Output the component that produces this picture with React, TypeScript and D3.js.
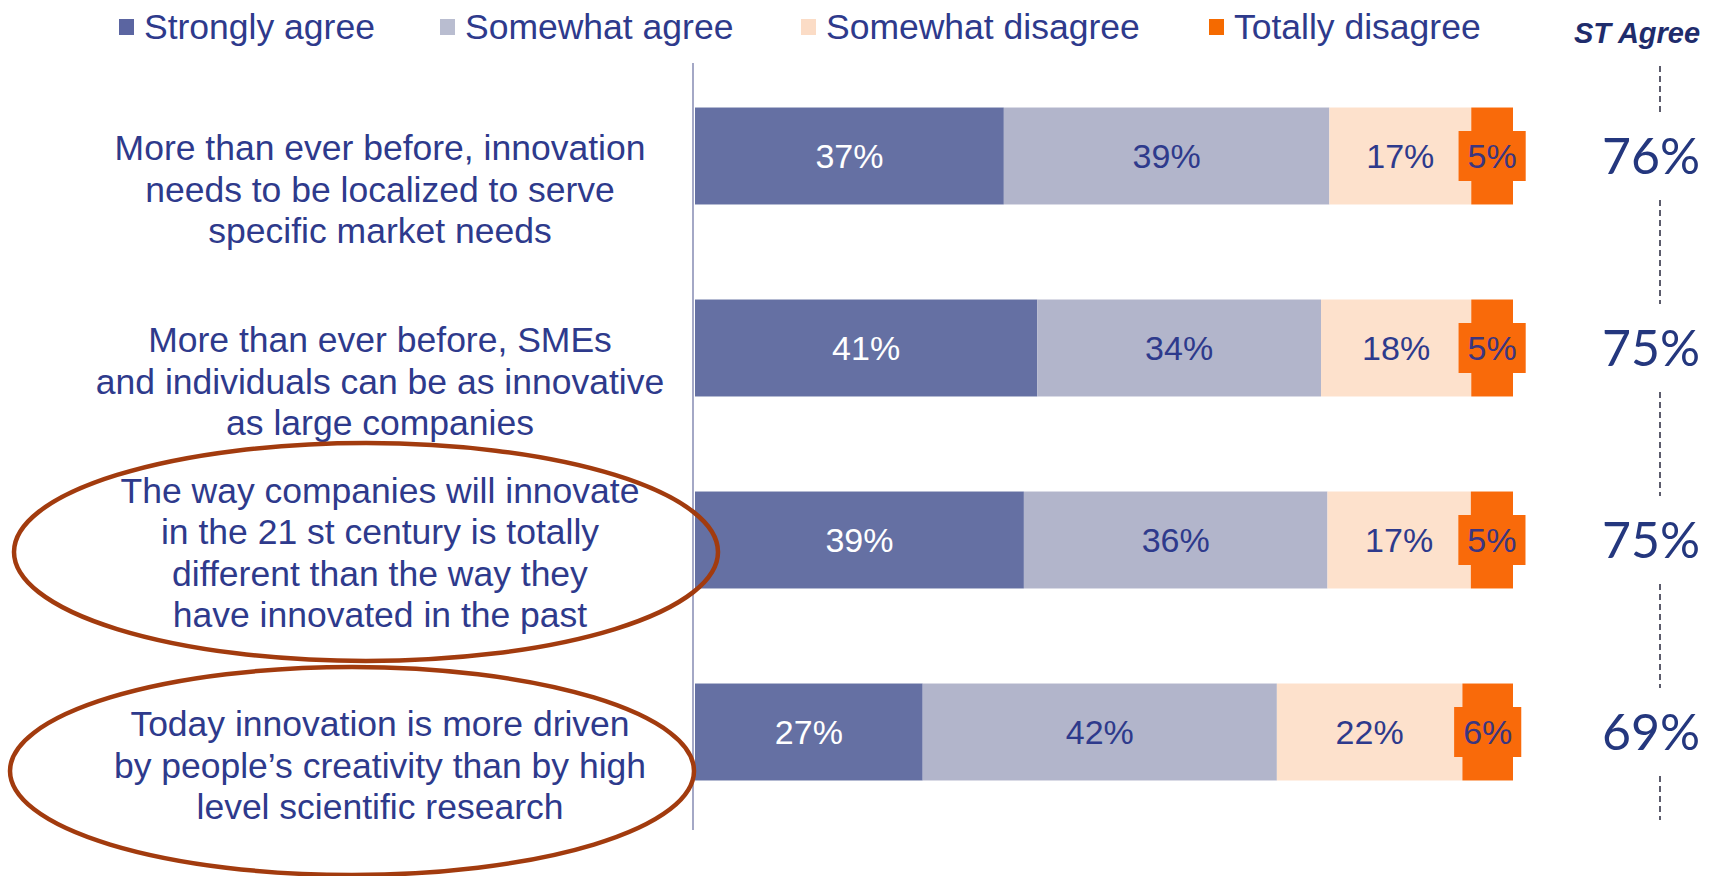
import React, { useEffect } from 'react';
import * as d3 from 'd3';

// categories (label lines as shown on the slide)
const categoryLines: string[][] = [
  ['More than ever before, innovation', 'needs to be localized to serve', 'specific market needs'],
  ['More than ever before, SMEs', 'and individuals can be as innovative', 'as large companies'],
  ['The way companies will innovate', 'in the 21 st century is totally', 'different than the way they', 'have innovated in the past'],
  ['Today innovation is more driven', 'by people\u2019s creativity than by high', 'level scientific research'],
];
const categories = categoryLines.map(l => l.join(' '));

const seriesNames = ['Strongly agree', 'Somewhat agree', 'Somewhat disagree', 'Totally disagree'];
const stronglyAgree = [37, 41, 39, 27];
const somewhatAgree = [39, 34, 36, 42];
const somewhatDisagree = [17, 18, 17, 22];
const totallyDisagree = [5, 5, 5, 6];
const stAgree = [76, 75, 75, 69];

// rows circled on the slide
const highlighted = [categories[2], categories[3]];

const W = 1723;
const H = 876;
const NAVY = '#2e3a8c';
const FONT = '"Liberation Sans", Arial, sans-serif';
const colors = ['#6570a3', '#b2b5cb', '#fde1cc', '#f96a0a'];
const legendColors = ['#5b65a1', '#b9bdd0', '#fbdcc6', '#f56a00'];
const labelColors = ['#ffffff', NAVY, NAVY, '#3b3680'];

const legendX = [119, 440, 801, 1209];
// ellipse geometry relative to its row
const ellipseShape = [
  { dx: 366, dy: 12, rx: 352, ry: 109 },
  { dx: 352, dy: 39, rx: 342, ry: 104 },
];

const approxWidth = (s: string, fs: number) =>
  d3.sum(s.split(''), c => (c === '%' ? 0.889 : 0.556)) * fs;

export default function App() {
  useEffect(() => {
    document.body.style.margin = '0';
  }, []);

  const rows = categories.map((c, i) => ({
    cat: c,
    s0: stronglyAgree[i],
    s1: somewhatAgree[i],
    s2: somewhatDisagree[i],
    s3: totallyDisagree[i],
  }));
  const keys = ['s0', 's1', 's2', 's3'];
  const stacked = d3.stack<any>().keys(keys).offset(d3.stackOffsetExpand)(rows);
  const raw = [stronglyAgree, somewhatAgree, somewhatDisagree, totallyDisagree];

  const x = d3.scaleLinear().domain([0, 1]).range([695, 1513]);
  const y = d3.scaleBand<string>().domain(categories).range([60, 828]).paddingInner(0.495).paddingOuter(0.2475);
  const bw = y.bandwidth();
  const cy = (c: string) => (y(c) as number) + bw / 2;

  const valueX = 1651;
  const dashX = 1660;
  const gapHalf = 44;
  const dashSegs: [number, number][] = [];
  let prev = 66;
  categories.forEach(c => {
    dashSegs.push([prev, cy(c) - gapHalf]);
    prev = cy(c) + gapHalf;
  });
  dashSegs.push([prev, 820]);

  const labelFs = 35.5;
  const lineH = 41.5;

  return (
    <svg width={W} height={H} style={{ display: 'block', background: '#fff' }} fontFamily={FONT}>
      {/* legend */}
      {seriesNames.map((n, i) => (
        <g key={n} transform={`translate(${legendX[i]},27)`}>
          <rect x={0} y={-8} width={15} height={16} fill={legendColors[i]} />
          <text x={25} y={12} fontSize={35.5} fill={NAVY}>{n}</text>
        </g>
      ))}
      <text x={1637} y={43} fontSize={29} fontWeight="bold" fontStyle="italic" fill="#1f2c6c" textAnchor="middle">ST Agree</text>

      {/* category axis line */}
      <line x1={693} x2={693} y1={63} y2={830} stroke="#a4a8c6" strokeWidth={2} />

      {/* bars */}
      {stacked.map((s, si) => (
        <g key={s.key}>
          {s.map((d, ri) => (
            <rect key={ri} x={x(d[0])} y={y(categories[ri])} width={x(d[1]) - x(d[0])} height={bw} fill={colors[si]} />
          ))}
        </g>
      ))}

      {/* value labels */}
      {stacked.map((s, si) => (
        <g key={'l' + s.key}>
          {s.map((d, ri) => {
            const t = `${raw[si][ri]}%`;
            const mx = (x(d[0]) + x(d[1])) / 2;
            const my = cy(categories[ri]);
            const boxW = approxWidth(t, 34) + 18;
            return (
              <g key={ri}>
                {si === 3 && <rect x={mx - boxW / 2} y={my - 25} width={boxW} height={50} fill={colors[3]} />}
                <text x={mx} y={my + 12} fontSize={34} fill={labelColors[si]} textAnchor="middle">{t}</text>
              </g>
            );
          })}
        </g>
      ))}

      {/* category labels */}
      {categoryLines.map((lines, i) => {
        const c = categories[i];
        const lastY = cy(c) + 75;
        return (
          <text key={c} fontSize={labelFs} fill={NAVY} textAnchor="middle">
            {lines.map((l, j) => (
              <tspan key={j} x={380} y={lastY - (lines.length - 1 - j) * lineH + 12}>{l}</tspan>
            ))}
          </text>
        );
      })}

      {/* ST Agree column */}
      {dashSegs.map(([a, b], i) => (
        <line key={i} x1={dashX} x2={dashX} y1={a} y2={b} stroke="#4b4b5c" strokeWidth={1.8} strokeDasharray="6,4" />
      ))}
      {categories.map((c, i) => (
        <text key={c} x={valueX} y={cy(c) + 18} fontSize={50} fill="#24377e" textAnchor="middle"
          fontFamily='"Century Gothic", "URW Gothic", Lato, sans-serif'>{`${stAgree[i]}%`}</text>
      ))}

      {/* highlight ellipses */}
      {highlighted.map((c, i) => (
        <ellipse key={c} cx={ellipseShape[i].dx} cy={cy(c) + ellipseShape[i].dy} rx={ellipseShape[i].rx} ry={ellipseShape[i].ry}
          fill="none" stroke="#a23b0e" strokeWidth={4.5} />
      ))}
    </svg>
  );
}
